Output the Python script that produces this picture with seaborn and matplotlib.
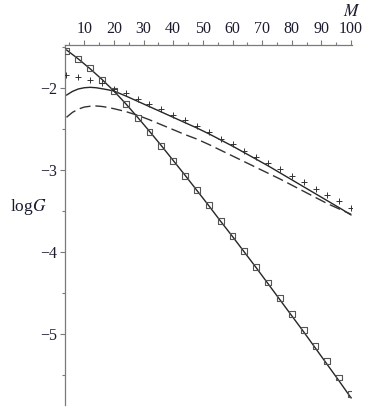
import numpy as np
import pandas as pd
import seaborn as sns
import matplotlib
matplotlib.use('Agg')
import matplotlib.pyplot as plt
from matplotlib.ticker import MultipleLocator

# Data
M_pts = [4, 8, 12, 16, 20, 24, 28, 32, 36, 40, 44, 48, 52,
         56, 60, 64, 68, 72, 76, 80, 84, 88, 92, 96, 100]

squares = [-1.55, -1.65, -1.765, -1.905, -2.04, -2.20, -2.365, -2.535, -2.71,
           -2.89, -3.07, -3.245, -3.43, -3.617, -3.80, -3.985, -4.176, -4.37,
           -4.56, -4.75, -4.945, -5.14, -5.33, -5.525, -5.727]

pluses = [-1.847, -1.875, -1.908, -1.94, -2.01, -2.07, -2.135, -2.20, -2.26,
          -2.33, -2.394, -2.467, -2.543, -2.625, -2.69, -2.767, -2.84, -2.912,
          -2.993, -3.07, -3.147, -3.232, -3.305, -3.378, -3.463]

steep_line = [-1.54, -1.65, -1.77, -1.90, -2.04, -2.195, -2.36, -2.53, -2.705,
              -2.885, -3.065, -3.25, -3.435, -3.625, -3.81, -4.0, -4.19, -4.385,
              -4.58, -4.775, -4.97, -5.17, -5.37, -5.57, -5.775]

M_curve = [4, 6, 8, 10, 12, 14, 16, 18, 20, 24, 28, 32, 36, 40, 44, 48,
           52, 56, 60, 64, 68, 72, 76, 80, 84, 88, 92, 96, 100]

solid_curve = [-2.09, -2.045, -2.015, -2.0, -1.995, -2.0, -2.012, -2.025, -2.04,
               -2.10, -2.165, -2.23, -2.295, -2.36, -2.425, -2.49, -2.56, -2.635,
               -2.71, -2.79, -2.87, -2.95, -3.035, -3.12, -3.205, -3.29, -3.375,
               -3.46, -3.548]

dashed_curve = [-2.36, -2.30, -2.26, -2.235, -2.225, -2.222, -2.228, -2.24, -2.255,
                -2.29, -2.335, -2.39, -2.45, -2.51, -2.57, -2.625, -2.69, -2.76,
                -2.83, -2.90, -2.97, -3.04, -3.11, -3.185, -3.26, -3.335, -3.41,
                -3.475, -3.54]

pts = pd.DataFrame({'M': M_pts, 'sq': squares, 'plus': pluses, 'steep': steep_line})
curves = pd.DataFrame({'M': M_curve, 'solid': solid_curve, 'dashed': dashed_curve})

sns.set_style('ticks')
plt.rcParams['font.family'] = ['Liberation Serif', 'DejaVu Serif']
plt.rcParams['mathtext.fontset'] = 'stix'

fig = plt.figure(figsize=(3.79, 4.09), dpi=100)
ax = fig.add_axes([65 / 379, 4 / 409, 287 / 379, 360 / 409])

line_c = '#262626'
sns.lineplot(data=pts, x='M', y='steep', ax=ax, color=line_c, linewidth=1.0)
sns.lineplot(data=curves, x='M', y='solid', ax=ax, color=line_c, linewidth=1.0)
sns.lineplot(data=curves, x='M', y='dashed', ax=ax, color='#333333', linewidth=1.0,
             linestyle=(0, (8, 3.5)))
sns.scatterplot(data=pts, x='M', y='sq', ax=ax, marker='s', s=18,
                facecolor='none', edgecolor='#555555', linewidth=0.8, zorder=3)
sns.scatterplot(data=pts, x='M', y='plus', ax=ax, marker='+', s=24,
                color='#333333', linewidth=0.7, zorder=3)

ax.set_xlim(3.5, 100.3)
ax.set_ylim(-5.86, -1.48)

ax.spines['right'].set_visible(False)
ax.spines['bottom'].set_visible(False)
for sp in ['top', 'left']:
    ax.spines[sp].set_color('#7a7a7a')
    ax.spines[sp].set_linewidth(0.9)

ax.xaxis.tick_top()
ax.xaxis.set_major_locator(MultipleLocator(10))
ax.xaxis.set_minor_locator(MultipleLocator(5))
ax.yaxis.set_major_locator(MultipleLocator(1))
ax.yaxis.set_minor_locator(MultipleLocator(0.5))
ax.tick_params(which='major', length=3.5, width=0.8, color='#7a7a7a',
               labelsize=11.5, labelcolor='#1c1c30', pad=2)
ax.tick_params(which='minor', length=2.5, width=0.8, color='#7a7a7a')
ax.set_yticks([-2, -3, -4, -5])
ax.set_yticklabels(['\u2212' + str(v) for v in [2, 3, 4, 5]])

ax.set_xlabel('')
ax.set_ylabel('')
fig.text(352 / 379, 1 - 12 / 409, r'$M$', ha='center', va='center',
         fontsize=12.5, color='#1c1c30')
fig.text(28 / 379, 1 - 207 / 409, r'log$G$', ha='center', va='center',
         fontsize=12.5, color='#1c1c30')

fig.savefig('out.png', dpi=100)
